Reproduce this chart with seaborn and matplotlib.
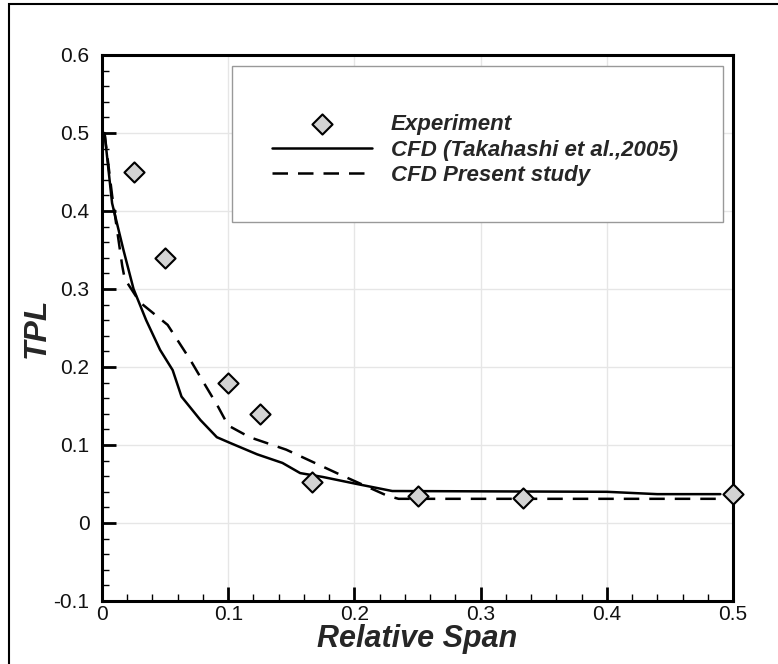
import numpy as np
import pandas as pd
import seaborn as sns
import matplotlib
matplotlib.use("Agg")
import matplotlib.pyplot as plt
from matplotlib.ticker import MultipleLocator, FuncFormatter
from matplotlib.patches import Rectangle

# ---- data ----
exp_x = [0.025, 0.05, 0.1, 0.125, 1/6, 0.25, 1/3, 0.5]
exp_y = [0.45, 0.34, 0.18, 0.14, 0.052, 0.035, 0.032, 0.037]

tak_x = [0.002, 0.008, 0.017, 0.025, 0.035, 0.046, 0.056, 0.063, 0.078, 0.091,
         0.101, 0.123, 0.143, 0.157, 0.175, 0.202, 0.23, 0.4, 0.44, 0.49]
tak_y = [0.5, 0.41, 0.35, 0.30, 0.26, 0.222, 0.196, 0.162, 0.132, 0.11,
         0.103, 0.088, 0.077, 0.064, 0.059, 0.05, 0.041, 0.040, 0.037, 0.037]

pre_x = [0.002, 0.008, 0.016, 0.018, 0.03, 0.052, 0.07, 0.078, 0.092, 0.1,
         0.117, 0.146, 0.186, 0.226, 0.235, 0.49]
pre_y = [0.5, 0.42, 0.33, 0.313, 0.283, 0.254, 0.209, 0.187, 0.149, 0.125,
         0.11, 0.094, 0.064, 0.035, 0.031, 0.031]

labels = ["Experiment", "CFD (Takahashi et al.,2005)", "CFD Present study"]
x_label = "Relative Span"
y_label = "TPL"

sns.set_theme(style="white")
plt.rcParams['font.family'] = ['Liberation Sans', 'DejaVu Sans']
plt.rcParams['axes.unicode_minus'] = False

fig = plt.figure(figsize=(7.78, 6.64), dpi=100)
ax = fig.add_axes([102/778, 1-601/664, 631/778, 546/664])

df_exp = pd.DataFrame({"x": exp_x, "y": exp_y})
df_tak = pd.DataFrame({"x": tak_x, "y": tak_y})
df_pre = pd.DataFrame({"x": pre_x, "y": pre_y})

sns.lineplot(data=df_tak, x="x", y="y", ax=ax, color="black", lw=1.8,
             label=labels[1], errorbar=None, zorder=2)
sns.lineplot(data=df_pre, x="x", y="y", ax=ax, color="black", lw=1.8,
             linestyle=(0, (6.2, 4.0)), label=labels[2], errorbar=None, zorder=2)
sns.scatterplot(data=df_exp, x="x", y="y", ax=ax, marker="D", s=105,
                color="#d3d3d3", edgecolor="black", linewidth=1.5,
                label=labels[0], zorder=4, clip_on=False)

ax.set_xlim(0, 0.5)
ax.set_ylim(-0.1, 0.6)
ax.xaxis.set_major_locator(MultipleLocator(0.1))
ax.yaxis.set_major_locator(MultipleLocator(0.1))
ax.xaxis.set_minor_locator(MultipleLocator(0.02))
ax.yaxis.set_minor_locator(MultipleLocator(0.02))
fmt = FuncFormatter(lambda v, p: f"{round(v, 3):g}")
ax.xaxis.set_major_formatter(fmt)
ax.yaxis.set_major_formatter(fmt)

ax.grid(True, which="major", color="#e6e6e6", lw=1.0)
ax.set_axisbelow(True)

ax.tick_params(which="major", direction="in", length=10, width=2.0,
               color="black", labelsize=15, labelcolor="#111111",
               left=True, bottom=True, top=False, right=False)
ax.tick_params(axis="x", which="major", pad=3)
ax.tick_params(axis="y", which="major", pad=9)
ax.tick_params(which="minor", direction="in", length=5, width=1.0,
               color="black", left=True, bottom=True, top=False, right=False)
for sp in ax.spines.values():
    sp.set_color("black")
    sp.set_linewidth(2.2)
    sp.set_visible(True)

ax.set_xlabel(x_label, fontsize=22, fontweight="bold", fontstyle="italic",
              labelpad=0)
ax.set_ylabel(y_label, fontsize=23, fontweight="bold", fontstyle="italic",
              labelpad=1)

# legend frame
ax.add_patch(Rectangle((0.206, 0.694), 0.778, 0.286, transform=ax.transAxes,
                       fill=True, facecolor="white", edgecolor="#999999",
                       lw=1.0, zorder=5))
h, l = ax.get_legend_handles_labels()
order = [l.index(lb) for lb in labels]
leg = ax.legend([h[i] for i in order], [l[i] for i in order],
                loc="center left", bbox_to_anchor=(0.269, 0.826),
                frameon=False, borderpad=0, borderaxespad=0,
                handlelength=4.5, handletextpad=0.85, labelspacing=0.2,
                prop={"size": 16, "weight": "bold", "style": "italic"})
leg.set_zorder(6)

# outer figure border (top and left visible)
fig.patches.append(Rectangle((9/778, -0.02), 1.05, 1 - 4/664 + 0.02,
                             transform=fig.transFigure, fill=False,
                             edgecolor="black", lw=1.5))

fig.savefig("out.png", dpi=100)
